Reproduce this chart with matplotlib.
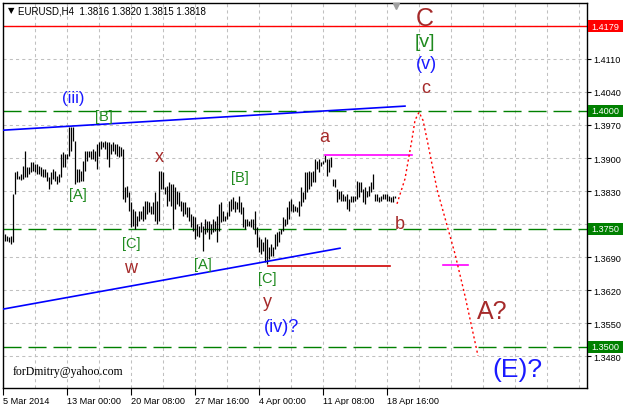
import matplotlib.pyplot as plt
import matplotlib.transforms as mtransforms
from matplotlib.patches import Rectangle
import numpy as np

# EURUSD H4 bars (high / low)
highs = [1.3739, 1.3735, 1.3733, 1.3735, 1.3824, 1.3870, 1.3873, 1.3862, 1.3866, 1.3883,
         1.3915, 1.3881, 1.3881, 1.3892, 1.3892, 1.3887, 1.3887, 1.3883, 1.3881, 1.3877,
         1.3877, 1.3870, 1.3860, 1.3870, 1.3877, 1.3873, 1.3862, 1.3866, 1.3909, 1.3913,
         1.3909, 1.3909, 1.3966, 1.3966, 1.3966, 1.3936, 1.3877, 1.3877, 1.3873, 1.3894,
         1.3915, 1.3915, 1.3915, 1.3915, 1.3919, 1.3915,
         1.3930, 1.3934, 1.3936, 1.3934, 1.3936, 1.3934, 1.3934, 1.3930, 1.3934, 1.3930,
         1.3930, 1.3925, 1.3923, 1.3919, 1.3839, 1.3841, 1.3828, 1.3807, 1.3792, 1.3788,
         1.3777, 1.3788, 1.3788, 1.3798, 1.3809, 1.3809, 1.3807, 1.3798, 1.3807, 1.3828,
         1.3809, 1.3873, 1.3873, 1.3870, 1.3839, 1.3841, 1.3849, 1.3845, 1.3845, 1.3839,
         1.3830, 1.3828, 1.3809, 1.3807, 1.3807, 1.3796, 1.3796, 1.3781, 1.3777,
         1.3775, 1.3760, 1.3756, 1.3765, 1.3756, 1.3771, 1.3767, 1.3767, 1.3760, 1.3771,
         1.3767, 1.3777, 1.3803, 1.3807, 1.3788, 1.3777, 1.3786, 1.3809, 1.3813, 1.3817,
         1.3809, 1.3807, 1.3820, 1.3807, 1.3796, 1.3771, 1.3771, 1.3767, 1.3771, 1.3771,
         1.3788, 1.3754, 1.3733, 1.3728, 1.3722, 1.3733, 1.3728, 1.3712, 1.3718, 1.3712,
         1.3739, 1.3743, 1.3745, 1.3750, 1.3775, 1.3771, 1.3796, 1.3809, 1.3813, 1.3803,
         1.3798, 1.3796, 1.3809, 1.3839, 1.3828, 1.3870, 1.3870, 1.3873, 1.3870, 1.3873,
         1.3898, 1.3894, 1.3898, 1.3892, 1.3894, 1.3906, 1.3898, 1.3898, 1.3902, 1.3856,
         1.3856, 1.3834, 1.3830, 1.3830, 1.3824, 1.3820, 1.3824, 1.3813, 1.3820, 1.3820,
         1.3820, 1.3851, 1.3849, 1.3849, 1.3834, 1.3839, 1.3830, 1.3841, 1.3849, 1.3866,
         1.3824, 1.3824, 1.3817, 1.3820, 1.3824, 1.3824, 1.3824, 1.3820, 1.3817, 1.3820,
         1.3820]
lows = [1.3724, 1.3724, 1.3722, 1.3718, 1.3722, 1.3824, 1.3856, 1.3856, 1.3853, 1.3856,
        1.3860, 1.3860, 1.3866, 1.3870, 1.3873, 1.3870, 1.3866, 1.3866, 1.3862, 1.3860,
        1.3860, 1.3851, 1.3834, 1.3845, 1.3856, 1.3851, 1.3845, 1.3849, 1.3860, 1.3881,
        1.3881, 1.3898, 1.3904, 1.3915, 1.3936, 1.3845, 1.3849, 1.3849, 1.3851, 1.3851,
        1.3873, 1.3894, 1.3902, 1.3898, 1.3898, 1.3894,
        1.3877, 1.3904, 1.3919, 1.3923, 1.3919, 1.3898, 1.3881, 1.3909, 1.3915, 1.3909,
        1.3904, 1.3902, 1.3904, 1.3813, 1.3807, 1.3817, 1.3788, 1.3754, 1.3756, 1.3750,
        1.3756, 1.3767, 1.3771, 1.3767, 1.3771, 1.3781, 1.3786, 1.3781, 1.3781, 1.3767,
        1.3760, 1.3767, 1.3834, 1.3834, 1.3824, 1.3798, 1.3809, 1.3798, 1.3750, 1.3792,
        1.3803, 1.3798, 1.3788, 1.3777, 1.3781, 1.3775, 1.3767, 1.3754, 1.3745,
        1.3728, 1.3735, 1.3733, 1.3743, 1.3703, 1.3739, 1.3743, 1.3728, 1.3739, 1.3743,
        1.3745, 1.3722, 1.3745, 1.3765, 1.3767, 1.3767, 1.3771, 1.3777, 1.3788, 1.3792,
        1.3786, 1.3792, 1.3786, 1.3781, 1.3754, 1.3750, 1.3756, 1.3756, 1.3754, 1.3750,
        1.3739, 1.3712, 1.3701, 1.3697, 1.3703, 1.3680, 1.3676, 1.3686, 1.3692, 1.3692,
        1.3707, 1.3714, 1.3722, 1.3739, 1.3745, 1.3756, 1.3760, 1.3771, 1.3788, 1.3786,
        1.3788, 1.3786, 1.3777, 1.3798, 1.3807, 1.3813, 1.3828, 1.3834, 1.3841, 1.3849,
        1.3849, 1.3877, 1.3870, 1.3883, 1.3887, 1.3892, 1.3862, 1.3870, 1.3881, 1.3841,
        1.3839, 1.3807, 1.3813, 1.3809, 1.3809, 1.3809, 1.3792, 1.3788, 1.3807, 1.3807,
        1.3809, 1.3813, 1.3817, 1.3828, 1.3807, 1.3803, 1.3817, 1.3820, 1.3828, 1.3834,
        1.3809, 1.3809, 1.3807, 1.3809, 1.3813, 1.3813, 1.3809, 1.3809, 1.3807, 1.3807,
        1.3815]
bar_idx = np.arange(1, len(highs) + 1)

# time axis: one label every 32 H4 bars
time_ticks = [0, 32, 64, 96, 128, 160, 192]
time_labels = ['5 Mar 2014', '13 Mar 00:00', '20 Mar 08:00', '27 Mar 16:00',
               '4 Apr 00:00', '11 Apr 08:00', '18 Apr 16:00']
price_ticks = [1.3480, 1.3550, 1.3620, 1.3690, 1.3760, 1.3830, 1.3900,
               1.3970, 1.4040, 1.4110, 1.4180]

# drawn objects
green_levels = [1.4000, 1.3750, 1.3500]
red_level = 1.4179
upper_line_x, upper_line_y = [0, 201], [1.3959, 1.4010]
lower_line_x, lower_line_y = [0, 168.5], [1.3580, 1.3709]
a_line_x, a_line_y = [161, 204.5], [1.3906, 1.3906]
c_line_x, c_line_y = [132.5, 193.5], [1.3671, 1.3671]
target_x, target_y = [220, 232.5], [1.3673, 1.3673]
proj_x = [197, 201, 204.5, 206, 208, 210, 212, 217, 222.5, 226, 231, 237.5]
proj_y = [1.3803, 1.3856, 1.3940, 1.3980, 1.3997, 1.3980, 1.3940, 1.3834,
          1.3750, 1.3697, 1.3608, 1.3481]

brown = '#a52a2a'
blue = '#1a1aff'
green = '#1f8a1f'
# (text, x, price, colour, size)
wave_labels = [
    ('(iii)', 35, 1.4029, blue, 12),
    ('[B]', 50.3, 1.3989, green, 10.5),
    ('[A]', 37.3, 1.3823, green, 10.5),
    ('x', 78, 1.3904, brown, 13),
    ('[C]', 64, 1.3720, green, 10.5),
    ('w', 64, 1.3669, brown, 13),
    ('[B]', 118.5, 1.3860, green, 10.5),
    ('[A]', 100, 1.3676, green, 10.5),
    ('[C]', 132, 1.3646, green, 10.5),
    ('y', 132, 1.3596, brown, 13),
    ('(iv)?', 139.5, 1.3544, blue, 13),
    ('a', 160.5, 1.3945, brown, 13),
    ('b', 198.5, 1.3762, brown, 13),
    ('C', 210.7, 1.4197, brown, 18),
    ('[v]', 211, 1.4146, green, 14),
    ('(v)', 211.5, 1.4101, blue, 13),
    ('c', 211.5, 1.4050, brown, 13),
    ('A?', 244.5, 1.3576, brown, 18),
    ('(E)?', 257, 1.3453, blue, 19),
]

W, H = 623, 406
fig = plt.figure(figsize=(W / 100, H / 100), dpi=100)
ax = fig.add_axes([3 / W, 1 - 389 / H, 584 / W, 385 / H])
ax.set_xlim(0, 292)
ax.set_ylim(1.34129, 1.42284)

# grid
for p in price_ticks:
    ax.axhline(p, color='#c0c0c0', lw=0.75, ls=(0, (3, 3)), zorder=0)
for gx in range(16, 292, 16):
    ax.axvline(gx, color='#c0c0c0', lw=0.75, ls=(0, (3, 3)), zorder=0)

# bars
ax.vlines(bar_idx, lows, highs, color='black', lw=0.9, zorder=3)

# horizontal levels and trend lines
for lv in green_levels:
    ax.axhline(lv, color='#008000', lw=1.0, ls=(0, (13, 5)), zorder=2)
ax.axhline(red_level, color='#ff0000', lw=1.0, zorder=2)
ax.plot(upper_line_x, upper_line_y, color='#0000ff', lw=1.2, zorder=4)
ax.plot(lower_line_x, lower_line_y, color='#0000ff', lw=1.2, zorder=4)
ax.plot(a_line_x, a_line_y, color='#ff00ff', lw=1.2, zorder=4)
ax.plot(c_line_x, c_line_y, color='#d00000', lw=1.2, zorder=4)
ax.plot(target_x, target_y, color='#ff00ff', lw=1.2, zorder=4)
ax.plot(proj_x, proj_y, color='#ff0000', lw=1.0, ls=(0, (1.5, 2)), zorder=4)

for txt, x, y, col, fs in wave_labels:
    ax.text(x, y, txt, color=col, fontsize=fs, family='Liberation Sans',
            ha='center', va='center', zorder=5)

ax.text(5, 1.3449, 'forDmitry@yahoo.com', family='Liberation Serif',
        fontsize=8.5, va='center', color='black')

# chart shift marker
ax.plot([len(highs) + 0.5], [1.4222], marker='v', color='#a0a0a0',
        markersize=5, clip_on=False, zorder=6)

# axes styling
for s in ax.spines.values():
    s.set_color('black')
    s.set_linewidth(1.0)
ax.yaxis.tick_right()
ax.set_yticks(price_ticks)
ax.set_yticklabels([f'{p:.4f}' for p in price_ticks])
ax.set_xticks(time_ticks)
ax.set_xticklabels(time_labels, ha='left')
ax.tick_params(axis='y', direction='out', length=3, width=0.8, pad=1.5,
               labelsize=6.6, labelfontfamily='Liberation Sans')
ax.tick_params(axis='x', direction='out', length=5, width=0.8, pad=1,
               labelsize=6.6, labelfontfamily='Liberation Sans')

# price labels on the right scale
trans = mtransforms.blended_transform_factory(ax.transAxes, ax.transData)
box_h = 0.00254
for lv, col in [(1.4000, '#008000'), (1.3750, '#008000'), (1.3500, '#008000'),
                (red_level, '#ff0000')]:
    ax.add_patch(Rectangle((1.0 + 1 / 584, lv - box_h / 2), 35 / 584, box_h,
                           transform=trans, facecolor=col, edgecolor='none',
                           clip_on=False, zorder=7))
    ax.text(1.0 + 4 / 584, lv, f'{lv:.4f}', transform=trans, color='white',
            fontsize=6.6, family='Liberation Sans', va='center', ha='left',
            clip_on=False, zorder=8)

# header
fig.text(8 / W, 1 - 11 / H, '\u25bc', fontsize=6, family='DejaVu Sans', va='center')
fig.text(18 / W, 1 - 11 / H, 'EURUSD,H4  1.3816 1.3820 1.3815 1.3818',
         fontsize=7, family='Liberation Sans', va='center')

fig.savefig('out.png', dpi=100)
